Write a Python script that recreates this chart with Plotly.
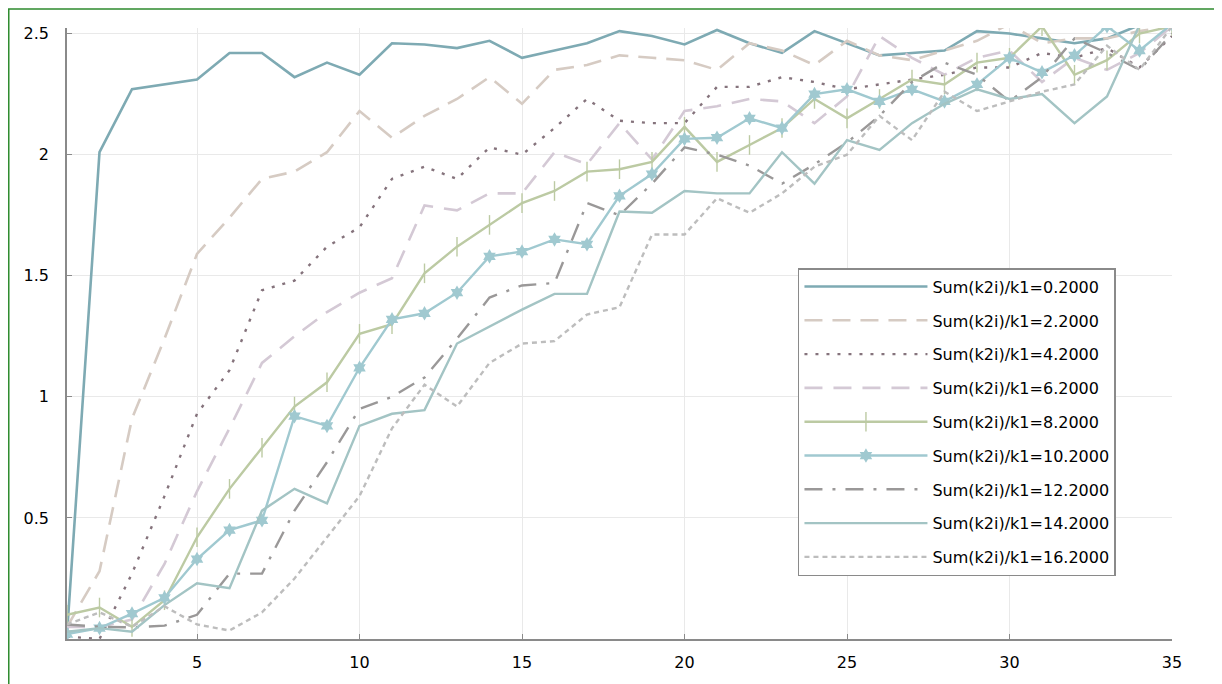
import plotly.graph_objects as go

x = list(range(1, 36))

names = ["Sum(k2i)/k1=0.2000", "Sum(k2i)/k1=2.2000", "Sum(k2i)/k1=4.2000",
         "Sum(k2i)/k1=6.2000", "Sum(k2i)/k1=8.2000", "Sum(k2i)/k1=10.2000",
         "Sum(k2i)/k1=12.2000", "Sum(k2i)/k1=14.2000", "Sum(k2i)/k1=16.2000"]

s0_2 = [0.02, 2.01, 2.27, 2.29, 2.31, 2.42, 2.42, 2.32, 2.38, 2.33, 2.46, 2.455, 2.44, 2.47, 2.40,
        2.43, 2.46, 2.51, 2.49, 2.455, 2.515, 2.46, 2.42, 2.51, 2.46, 2.41, 2.42, 2.43, 2.51, 2.50,
        2.48, 2.46, 2.48, 2.535, 2.53]
s2_2 = [0.05, 0.28, 0.91, 1.24, 1.59, 1.74, 1.90, 1.93, 2.01, 2.18, 2.07, 2.16, 2.23, 2.32, 2.21,
        2.35, 2.37, 2.41, 2.40, 2.39, 2.35, 2.46, 2.43, 2.37, 2.47, 2.41, 2.39, 2.43, 2.47, 2.54,
        2.46, 2.48, 2.48, 2.51, 2.53]
s4_2 = [0.01, 0.0, 0.27, 0.59, 0.93, 1.11, 1.44, 1.48, 1.62, 1.70, 1.90, 1.95, 1.90, 2.03, 2.00,
        2.11, 2.23, 2.14, 2.13, 2.13, 2.28, 2.28, 2.32, 2.30, 2.27, 2.29, 2.31, 2.33, 2.36, 2.36,
        2.42, 2.40, 2.44, 2.36, 2.49]
s6_2 = [0.05, 0.05, 0.08, 0.31, 0.61, 0.87, 1.14, 1.25, 1.35, 1.43, 1.49, 1.79, 1.77, 1.84, 1.84,
        2.01, 1.96, 2.13, 1.98, 2.18, 2.20, 2.23, 2.22, 2.13, 2.24, 2.49, 2.40, 2.33, 2.40, 2.43,
        2.30, 2.40, 2.35, 2.42, 2.53]
s8_2 = [0.10, 0.13, 0.05, 0.16, 0.42, 0.62, 0.79, 0.96, 1.06, 1.26, 1.30, 1.51, 1.62, 1.71, 1.80,
        1.85, 1.93, 1.94, 1.97, 2.115, 1.97, 2.04, 2.11, 2.23, 2.15, 2.23, 2.31, 2.29, 2.38, 2.40,
        2.53, 2.33, 2.39, 2.50, 2.53]
s10_2 = [0.02, 0.045, 0.105, 0.17, 0.33, 0.45, 0.49, 0.92, 0.88, 1.12, 1.32, 1.345, 1.43, 1.58, 1.60,
         1.65, 1.63, 1.83, 1.92, 2.065, 2.07, 2.15, 2.11, 2.25, 2.27, 2.22, 2.27, 2.22, 2.29, 2.40,
         2.34, 2.41, 2.53, 2.43, 2.54]
s12_2 = [0.06, 0.05, 0.048, 0.055, 0.10, 0.27, 0.27, 0.53, 0.73, 0.95, 1.00, 1.08, 1.24, 1.41, 1.46,
         1.47, 1.80, 1.75, 1.88, 2.03, 2.00, 1.955, 1.88, 1.96, 2.05, 2.16, 2.30, 2.38, 2.33, 2.22,
         2.32, 2.48, 2.42, 2.35, 2.50]
s14_2 = [0.03, 0.045, 0.03, 0.14, 0.23, 0.21, 0.53, 0.62, 0.56, 0.88, 0.93, 0.945, 1.22, 1.29, 1.36,
         1.425, 1.425, 1.765, 1.76, 1.85, 1.84, 1.84, 2.01, 1.88, 2.06, 2.02, 2.13, 2.21, 2.27, 2.23,
         2.25, 2.13, 2.24, 2.535, 2.53]
s16_2 = [0.06, 0.11, 0.05, 0.135, 0.06, 0.035, 0.11, 0.25, 0.42, 0.59, 0.87, 1.05, 0.96, 1.14, 1.22,
         1.23, 1.34, 1.37, 1.67, 1.67, 1.82, 1.76, 1.84, 1.95, 2.00, 2.16, 2.06, 2.26, 2.18, 2.22,
         2.26, 2.29, 2.45, 2.35, 2.53]

series = [s0_2, s2_2, s4_2, s6_2, s8_2, s10_2, s12_2, s14_2, s16_2]

xtick_vals = [5, 10, 15, 20, 25, 30, 35]
ytick_vals = [0.5, 1, 1.5, 2, 2.5]
ytick_text = ["0.5", "1", "1.5", "2", "2.5"]

styles = [
    dict(color="#7eaab3", dash="solid", width=2.6, marker=None),
    dict(color="#d6cbc3", dash="18px,10px", width=2.6, marker=None),
    dict(color="#85737c", dash="3px,8px", width=2.4, marker=None),
    dict(color="#d4c9d5", dash="18px,11px", width=2.6, marker=None),
    dict(color="#bccaa3", dash="solid", width=2.4,
         marker=dict(symbol="line-ns", size=14, line=dict(width=1.4, color="#bccaa3"))),
    dict(color="#a0c9d0", dash="solid", width=2.4,
         marker=dict(symbol="hexagram", size=11, color="#a0c9d0", line=dict(width=0))),
    dict(color="#9a9898", dash="18px,10px,3px,10px", width=2.4, marker=None),
    dict(color="#a3c4c4", dash="solid", width=2.4, marker=None),
    dict(color="#bdbdbd", dash="5px,4px", width=2.4, marker=None),
]

fig = go.Figure()
for i, (nm, ys, st) in enumerate(zip(names, series, styles)):
    kw = dict(x=x, y=ys, name=nm, legendgroup=f"g{i}",
              line=dict(color=st["color"], dash=st["dash"], width=st["width"]))
    if st["marker"] is not None:
        kw["mode"] = "lines+markers"
        kw["marker"] = st["marker"]
    else:
        kw["mode"] = "lines"
    fig.add_trace(go.Scatter(**kw))

# page body has an 8px offset; plot area targets: x 67..1172, y 28..641.7 (screen px)
fig.update_layout(
    width=1214, height=676,
    margin=dict(l=59, r=50, t=20, b=42),
    paper_bgcolor="white", plot_bgcolor="white",
    font=dict(family="DejaVu Sans", size=16, color="black"),
    showlegend=True,
    legend=dict(x=0.6615, y=0.607, xanchor="left", yanchor="top",
                bgcolor="white", bordercolor="#8a8a8a", borderwidth=1.5,
                font=dict(family="DejaVu Sans", size=16, color="black"),
                tracegroupgap=10, itemwidth=123),
    shapes=[dict(type="rect", xref="paper", yref="paper",
                 x0=-0.0527, x1=1.0412, y0=-0.08, y1=1.0312,
                 line=dict(color="#2e8b2e", width=1.5), layer="above")],
)
fig.update_xaxes(range=[1, 35], tickvals=xtick_vals, ticks="inside", ticklen=5,
                 tickcolor="#8a8a8a", showline=True, linecolor="#8a8a8a", linewidth=1.5,
                 showgrid=True, gridcolor="#e9e9e9", gridwidth=1, zeroline=False,
                 ticklabelstandoff=8)
fig.update_yaxes(range=[0, 2.523], tickvals=ytick_vals, ticktext=ytick_text, ticks="inside",
                 ticklen=5, tickcolor="#8a8a8a", showline=True, linecolor="#8a8a8a",
                 linewidth=1.5, showgrid=True, gridcolor="#e9e9e9", gridwidth=1,
                 zeroline=False, ticklabelstandoff=13)

fig.write_html("out.html")
